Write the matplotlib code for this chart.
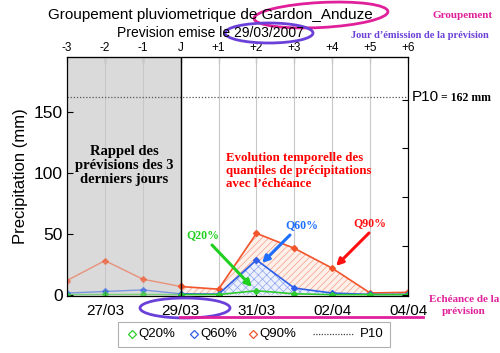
import matplotlib
matplotlib.use("Agg")
import matplotlib.pyplot as plt
from matplotlib.patches import Ellipse, Rectangle

# donnees
days = [-3, -2, -1, 0, 1, 2, 3, 4, 5, 6]
top_labels = ["-3", "-2", "-1", "J", "+1", "+2", "+3", "+4", "+5", "+6"]
date_ticks = [-2, 0, 2, 4, 6]
date_labels = ["27/03", "29/03", "31/03", "02/04", "04/04"]
q90 = [11.7, 28.0, 12.8, 6.8, 4.6, 50.4, 38.1, 21.8, 1.5, 2.0]
q60 = [1.4, 2.7, 4.0, 0.8, 0.5, 28.6, 5.5, 1.4, 0.3, 0.3]
q20 = [0.2, 0.3, 0.3, 0.2, 0.2, 3.3, 0.8, 0.1, 0.1, 0.1]
p10 = 162

c20 = "#2ecc2e"
c60 = "#2f5fe8"
c90 = "#f2552c"
mag = "#e0209a"
pur = "#6a40d8"
sans = "Liberation Sans"
serif = "Liberation Serif"

fig = plt.figure(figsize=(5, 3.53), dpi=100)
ax = fig.add_axes([67/500, 1-296/353, 341/500, 239/353])
ax.set_xlim(-3, 6)
ax.set_ylim(-1, 195)

# zone des 3 derniers jours
ax.axvspan(-3, 0, facecolor="#dadada", edgecolor="none", zorder=0)
for d in days:
    ax.axvline(d, color="#c8c8c8", lw=0.8, zorder=1)
ax.axvline(0, color="black", lw=1, zorder=5)
ax.axhline(p10, color="#555555", lw=0.9, ls=(0, (1, 1.5)), zorder=2)

# passe (plus clair)
i0 = days.index(0)
for q, c in [(q90, c90), (q60, c60), (q20, c20)]:
    ax.plot(days[:i0+1], q[:i0+1], color=c, lw=1, marker="D", ms=3,
            alpha=0.55, zorder=3)

# prevision hachuree
plt.rcParams["hatch.linewidth"] = 0.5
ax.fill_between(days[i0:], 0, q90[i0:], facecolor="#fdf0eb", edgecolor="#f4a084",
                hatch="/////", lw=0, zorder=2)
ax.fill_between(days[i0:], 0, q60[i0:], facecolor="#edf1fd", edgecolor="#8fa6ee",
                hatch="xxxx", lw=0, zorder=2)
for q, c in [(q90, c90), (q60, c60), (q20, c20)]:
    ax.plot(days[i0:], q[i0:], color=c, lw=1.2, marker="D", ms=3, zorder=4)

ax.set_yticks([0, 50, 100, 150])
ax.set_xticks(date_ticks)
ax.set_xticklabels(date_labels)
ax.tick_params(direction="in", length=4)
ax.tick_params(axis="x", pad=6, labelsize=11)
ax.tick_params(axis="y", labelsize=12.5, pad=3)
for lab in ax.get_xticklabels() + ax.get_yticklabels():
    lab.set_family(sans)
ax.set_ylabel("Precipitation (mm)", family=sans, fontsize=12, labelpad=4)

top = ax.secondary_xaxis("top")
top.set_xticks(days)
top.set_xticklabels(top_labels, family=sans, fontsize=8.5)
top.tick_params(direction="in", length=4, pad=2)

right = ax.twinx()
right.set_ylim(ax.get_ylim())
right.set_yticks([0, 40, 80, 120, 160])
right.set_yticklabels([])
right.tick_params(direction="in", length=4)

# surcouche en pixels pour les annotations
ov = fig.add_axes([0, 0, 1, 1])
ov.set_xlim(0, 500)
ov.set_ylim(353, 0)
ov.axis("off")

ov.text(210, 15, "Groupement pluviometrique de Gardon_Anduze", ha="center",
        va="center", family=sans, fontsize=11)
ov.text(210, 33, "Prevision emise le 29/03/2007", ha="center", va="center",
        family=sans, fontsize=10)
ov.add_patch(Ellipse((321, 15), 134, 25, angle=-3, fill=False, ec=mag, lw=2))
ov.add_patch(Ellipse((269, 33), 88, 20, fill=False, ec=pur, lw=2))
ov.add_patch(Ellipse((185, 308), 90, 20, fill=False, ec=pur, lw=2))
ov.plot([180, 423], [317, 317], color=mag, lw=2)

ov.text(463, 16, "Groupement", color=mag, family=serif, weight="bold",
        fontsize=8, ha="center", va="center")
ov.text(420, 36, "Jour d\u2019émission de la prévision", color=pur,
        family=serif, weight="bold", fontsize=7.5, ha="center", va="center")
ov.text(412, 97, "P10", family=sans, fontsize=11, va="center")
ov.text(441, 98, "= 162 mm", family=serif, weight="bold", fontsize=8.5,
        va="center")
ov.text(464, 299, "Echéance de la", color=mag, family=serif, weight="bold",
        fontsize=8, ha="center", va="center")
ov.text(464, 311, "prévision", color=mag, family=serif, weight="bold",
        fontsize=8, ha="center", va="center")

ov.text(124, 166, "Rappel des\nprévisions des 3\nderniers jours", ha="center",
        va="center", family=serif, weight="bold", fontsize=10.5,
        linespacing=1.1)
ov.text(226, 171, "Evolution temporelle des\nquantiles de précipitations\n"
        "avec l\u2019échéance", ha="left", va="center", color="red",
        family=serif, weight="bold", fontsize=9.3, linespacing=1.15)

for txt, col, tpos, a0, a1 in [("Q20%", "#1fd01f", (203, 235), (212, 245), (252, 287)),
                               ("Q60%", "#1f6fff", (302, 225), (290, 235), (262, 263)),
                               ("Q90%", "#ff1010", (370, 223), (369, 233), (336, 266))]:
    ov.text(tpos[0], tpos[1], txt, color=col, family=serif, weight="bold",
            fontsize=8.5, ha="center", va="center")
    ov.annotate("", xy=a1, xytext=a0,
                arrowprops=dict(arrowstyle="-|>", color=col, lw=2.2,
                                mutation_scale=10, shrinkA=0, shrinkB=0))

# legende
ov.add_patch(Rectangle((118, 322), 272, 25, fill=True, fc="white",
                       ec="#b0b0b0", lw=0.8))
for x, c, lab in [(132, c20, "Q20%"), (194, c60, "Q60%"), (253, c90, "Q90%")]:
    ov.plot([x], [334], marker="D", ms=4, mfc="none", mec=c, mew=0.9)
    ov.text(x + 6, 334, lab, family=sans, fontsize=9.5, va="center")
ov.plot([313, 353], [334, 334], color="#444444", lw=0.9, ls=(0, (1, 1.2)))
ov.text(360, 334, "P10", family=sans, fontsize=9.5, va="center")

fig.savefig("out.png", dpi=100)
